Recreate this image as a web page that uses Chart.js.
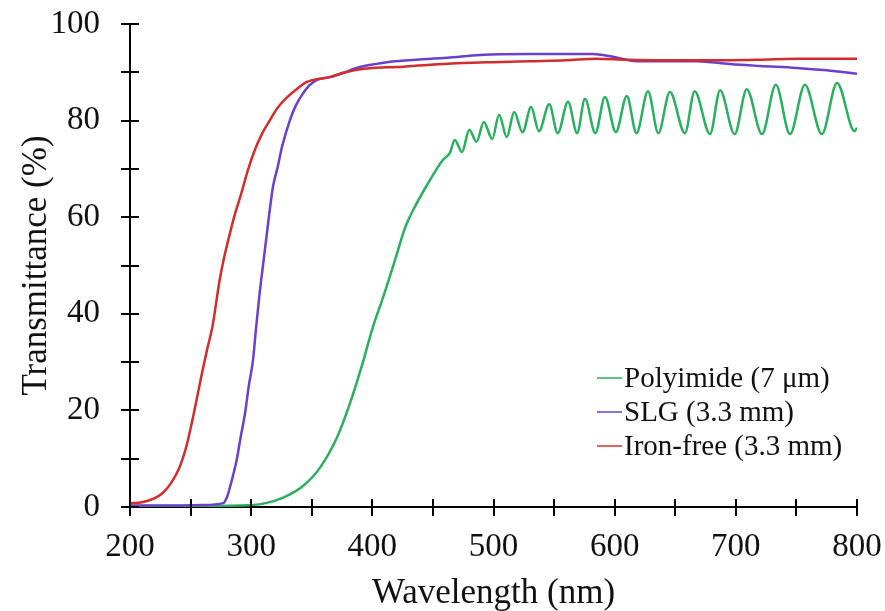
<!DOCTYPE html>
<html>
<head>
<meta charset="utf-8">
<script src="https://cdn.jsdelivr.net/npm/chart.js@4"></script>
<style>
	html, body { margin: 0; padding: 0; background: #fff; }
	#wrap { width: 885px; height: 611px; }
</style>
</head>
<body>
<div id="wrap"><canvas id="transChart"></canvas></div>
<script>
// Polyimide film (7 um), wavelength in nm and transmittance in %
const polyWl = [200, 250, 290, 310, 326, 343, 357, 371, 381.6, 392, 400.5, 409, 418.7, 427, 435, 447.6, 458, 464, 468, 474, 480, 486, 492, 499, 504.6, 511, 517, 524, 531, 537.5, 546, 553, 561.5, 569, 575.5, 584, 592, 601, 610, 618, 627.5, 636, 645.6, 658, 666, 678.7, 687, 699, 709, 721.6, 733, 744.7, 757, 771, 783.5, 798, 800];
const polyT = [0.2, 0.2, 0.3, 0.7, 1.9, 4.4, 8.2, 14.5, 21.5, 29.8, 37.3, 43.5, 51.1, 57.8, 62.1, 67.7, 71.8, 73.3, 76.0, 73.5, 78.1, 75.6, 79.7, 76.2, 81.2, 76.6, 81.8, 77.6, 82.8, 77.8, 83.4, 77.4, 83.9, 77.4, 84.5, 77.4, 84.9, 77.6, 85.1, 77.4, 86.1, 77.4, 85.9, 77.4, 86.1, 77.2, 86.3, 77.2, 86.5, 77.2, 87.4, 77.2, 87.4, 77.2, 87.8, 77.8, 78.5];

// Soda lime glass (3.3 mm)
const slgWl = [200, 230, 260, 277, 280, 282.5, 285, 288, 291, 295, 298, 301.5, 304, 307, 310, 313, 318, 322, 325.4, 332, 337, 343, 348, 354, 365, 376, 387, 400, 412, 430, 462, 489, 530, 560, 582, 598.6, 618, 640, 668, 695, 720, 750, 775, 800];
const slgT = [0.3, 0.3, 0.4, 0.8, 2, 4.1, 6.5, 9.7, 14, 19.5, 25, 30.4, 37, 44.3, 50.5, 56.7, 66.3, 70.5, 74.5, 80.1, 83.2, 85.7, 87.3, 88.4, 89.0, 89.9, 90.9, 91.6, 92.1, 92.5, 93.0, 93.6, 93.8, 93.8, 93.8, 93.2, 92.3, 92.3, 92.3, 91.7, 91.3, 90.9, 90.4, 89.7];

// Iron-free glass (3.3 mm)
const ironWl = [200, 210, 220, 227, 234, 241, 247, 252, 256, 260, 264, 268, 274, 278, 282.5, 287, 291, 297, 303, 309, 315.5, 322, 330, 338, 346, 355, 365, 375, 387, 400, 420, 445, 475, 500, 530, 560, 585, 610, 640, 670, 695, 720, 750, 775, 800];
const ironT = [0.8, 1.0, 1.8, 2.9, 5.0, 8.3, 13, 18.6, 23.5, 28.4, 33, 37.3, 47, 52, 56.7, 61, 64.2, 69.5, 73.9, 77.3, 80.1, 82.7, 84.9, 86.6, 88, 88.6, 89.0, 89.8, 90.5, 90.9, 91.1, 91.5, 91.9, 92.1, 92.3, 92.5, 92.8, 92.6, 92.5, 92.5, 92.5, 92.6, 92.8, 92.8, 92.8];

const seriesLabels = ['Polyimide (7 \u03bcm)', 'SLG (3.3 mm)', 'Iron-free (3.3 mm)'];
const xTicks = [200, 300, 400, 500, 600, 700, 800];
const yTicks = [0, 20, 40, 60, 80, 100];

const serif = '"Liberation Serif", "Times New Roman", serif';

function toPoints(xs, ys) {
	return xs.map((x, i) => ({x: x, y: ys[i]}));
}

// Tick marks crossing the axes (major + minor), drawn from the scales
const crossTicks = {
	id: 'crossTicks',
	afterDraw(chart) {
		const ctx = chart.ctx;
		const xs = chart.scales.x;
		const ys = chart.scales.y;
		const x0 = xs.getPixelForValue(xs.min);
		const y0 = ys.getPixelForValue(ys.min);
		ctx.save();
		ctx.strokeStyle = '#000';
		ctx.lineWidth = 2;
		ctx.beginPath();
		for (let v = xs.min; v <= xs.max; v += 50) {
			const px = Math.round(xs.getPixelForValue(v));
			ctx.moveTo(px, y0 - 8);
			ctx.lineTo(px, y0 + 9);
		}
		for (let v = ys.min; v <= ys.max; v += 10) {
			const py = Math.round(ys.getPixelForValue(v));
			ctx.moveTo(x0 - 9, py);
			ctx.lineTo(x0 + 9, py);
		}
		ctx.stroke();
		ctx.restore();
	}
};

// Legend inside the plot, lower right
const insideLegend = {
	id: 'insideLegend',
	afterDraw(chart) {
		const ctx = chart.ctx;
		ctx.save();
		ctx.font = '29px ' + serif;
		ctx.textBaseline = 'middle';
		ctx.textAlign = 'left';
		chart.data.datasets.forEach((ds, i) => {
			const y = 378 + i * 34;
			ctx.strokeStyle = ds.borderColor;
			ctx.lineWidth = 1.5;
			ctx.beginPath();
			ctx.moveTo(597, y);
			ctx.lineTo(622, y);
			ctx.stroke();
			ctx.fillStyle = '#111';
			ctx.fillText(ds.label, 624, y + 1);
		});
		ctx.restore();
	}
};

const chartEl = document.getElementById('transChart');
new Chart(chartEl, {
	type: 'line',
	data: {
		datasets: [
			{
				label: seriesLabels[0],
				data: toPoints(polyWl, polyT),
				borderColor: '#27b15f',
				order: 2,
			},
			{
				label: seriesLabels[1],
				data: toPoints(slgWl, slgT),
				borderColor: '#6a40cc',
				order: 1,
			},
			{
				label: seriesLabels[2],
				data: toPoints(ironWl, ironT),
				borderColor: '#d42c2c',
				order: 0,
			},
		]
	},
	options: {
		responsive: true,
		maintainAspectRatio: false,
		animation: false,
		devicePixelRatio: 1,
		layout: {
			padding: {top: 0, right: 0, left: 0, bottom: 0}
		},
		elements: {
			point: {radius: 0},
			line: {borderWidth: 2.5, cubicInterpolationMode: 'monotone', fill: false}
		},
		plugins: {
			legend: {display: false},
			tooltip: {enabled: false},
		},
		scales: {
			x: {
				type: 'linear',
				min: 200,
				max: 800,
				afterFit: (s) => { s.height = 104; s.paddingRight = 28; },
				afterBuildTicks: (s) => { s.ticks = xTicks.map(v => ({value: v})); },
				grid: {display: true, drawOnChartArea: false, drawTicks: false},
				border: {display: true, color: '#000', width: 2},
				ticks: {
					color: '#111',
					padding: 21,
					maxRotation: 0,
					font: {family: serif, size: 33},
				},
				title: {
					display: true,
					text: 'Wavelength (nm)',
					color: '#111',
					font: {family: serif, size: 35, lineHeight: 1.0},
					padding: {top: 0, bottom: 0},
				},
			},
			y: {
				type: 'linear',
				min: 0,
				max: 100,
				afterFit: (s) => { s.width = 130; s.paddingTop = 24; },
				afterBuildTicks: (s) => { s.ticks = yTicks.map(v => ({value: v})); },
				grid: {display: true, drawOnChartArea: false, drawTicks: false},
				border: {display: true, color: '#000', width: 2},
				ticks: {
					color: '#111',
					padding: 30,
					font: {family: serif, size: 33},
				},
				title: {
					display: true,
					text: 'Transmittance (%)',
					color: '#111',
					font: {family: serif, size: 35},
					padding: {top: 16, bottom: 0},
				},
			},
		},
	},
	plugins: [crossTicks, insideLegend],
});
</script>
</body>
</html>
